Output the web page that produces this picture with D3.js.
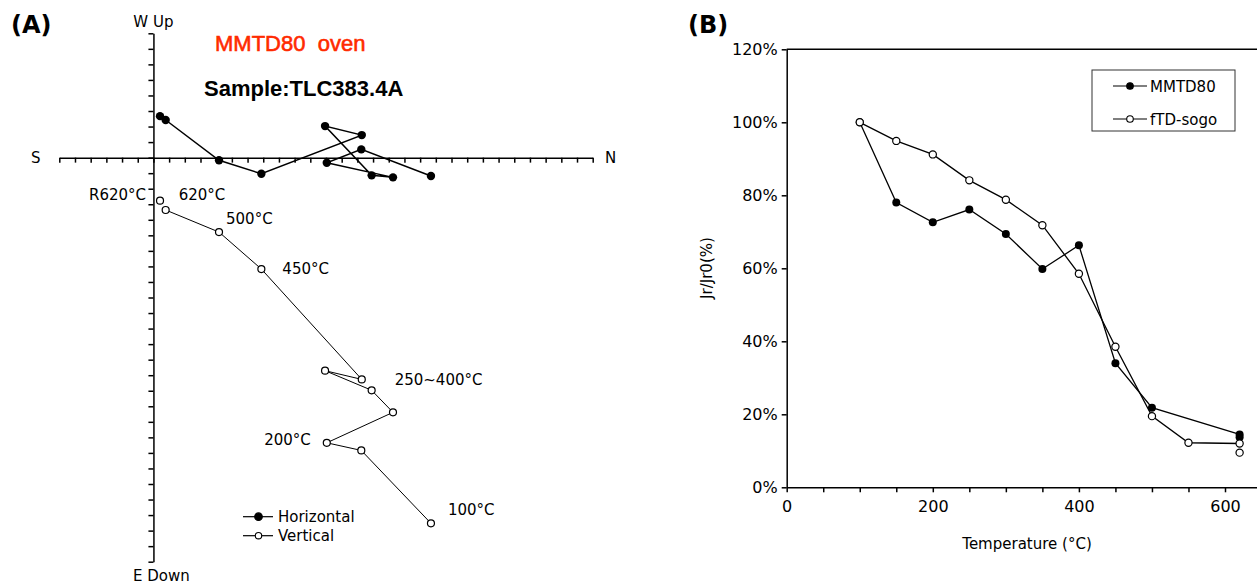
<!DOCTYPE html>
<html>
<head>
<meta charset="utf-8">
<script src="https://cdn.jsdelivr.net/npm/d3@7"></script>
<style>
    body { margin: 0; background: #fff; }
    svg { display: block; }
    .tick text { font-family: "DejaVu Sans", sans-serif; }
</style>
</head>
<body>
<svg id="chart" width="1257" height="586"></svg>
<script>
'use strict';

// (A) Zijderveld diagram, values in axis tick units
var stepLabels = ['100', '150', '200', '250', '300', '350', '400', '450', '500', '620', 'R620'];
var northComp = [17.69, 13.25, 11.05, 15.27, 13.91, 10.94, 13.28, 6.88, 4.18, 0.78, 0.42];
var westUpComp = [-1.18, 0.53, -0.33, -1.27, -1.14, 2.03, 1.45, -1.04, -0.17, 2.42, 2.67];
var downComp = [23.53, 18.84, 18.35, 16.39, 14.97, 13.71, 14.27, 7.17, 4.79, 3.37, 2.77];

// temperature notes placed beside the vertical projection
var noteText = ['R620°C', '620°C', '500°C', '450°C', '250~400°C', '200°C', '100°C'];
var noteStep = ['R620', '620', '500', '450', '300', '200', '100'];

// (B) remanence ratio vs temperature
var mmtdTemps = [100, 150, 200, 250, 300, 350, 400, 450, 500, 620];
var mmtdValues = [100, 78.0, 72.6, 76.1, 69.4, 59.8, 66.3, 34.0, 21.8, 14.5];
var mmtdReheat = 13.7;
var sogoTemps = [100, 150, 200, 250, 300, 350, 400, 450, 500, 550, 620];
var sogoValues = [100, 94.9, 91.2, 84.1, 78.8, 71.8, 58.5, 38.5, 19.5, 12.2, 12.0];
var sogoReheat = 9.5;
var yTicksB = [0, 20, 40, 60, 80, 100, 120];
var xTicksB = [0, 200, 400, 600];

var svg = d3.select('#chart');
var FONT = '"DejaVu Sans", sans-serif';

svg.append('rect').attr('width', 1257).attr('height', 586).attr('fill', '#fff');

/************************************ Panel A ************************************/
function drawPanelA() {
    var g = svg.append('g'),
        x = d3.scaleLinear().domain([-6, 28]).range([59.3, 592.7]),
        y = d3.scaleLinear().domain([8, -26]).range([33.3, 561.7]),
        pts = stepLabels.map(function (s, i) {
            return { step: s, n: northComp[i], w: westUpComp[i], d: downComp[i] };
        }),
        mainRun = pts.filter(d => d.step !== 'R620');

    g.append('text').attr('x', 11).attr('y', 33).attr('font-family', FONT)
        .attr('font-weight', 'bold').attr('font-size', 24).text('(A)');

    //horizontal axis (S - N), ticks hang below
    g.append('g')
        .attr('transform', 'translate(0,' + y(0) + ')')
        .call(d3.axisBottom(x).tickValues(d3.range(-6, 29)).tickSize(5).tickSizeOuter(0).tickFormat(''))
        .call(a => a.selectAll('line,path').attr('stroke', '#000').attr('stroke-width', 1.5));

    //vertical axis (W Up - E Down), ticks on left
    g.append('g')
        .attr('transform', 'translate(' + x(0) + ',0)')
        .call(d3.axisLeft(y).tickValues(d3.range(-26, 9)).tickSize(5).tickSizeOuter(0).tickFormat(''))
        .call(a => a.selectAll('line,path').attr('stroke', '#000').attr('stroke-width', 1.5));

    g.append('text').attr('x', x(0)).attr('y', 27).attr('text-anchor', 'middle')
        .attr('font-family', FONT).attr('font-size', 15).text('W Up');
    g.append('text').attr('x', x(0) + 8).attr('y', 581).attr('text-anchor', 'middle')
        .attr('font-family', FONT).attr('font-size', 15).text('E Down');
    g.append('text').attr('x', 31).attr('y', y(0) + 5).attr('font-family', FONT)
        .attr('font-size', 15).text('S');
    g.append('text').attr('x', 605).attr('y', y(0) + 5).attr('font-family', FONT)
        .attr('font-size', 15).text('N');

    g.append('text').attr('x', 215).attr('y', 51).attr('font-family', '"Liberation Sans", sans-serif')
        .attr('font-size', 22).attr('fill', '#ff2a00').attr('stroke', '#ff2a00').attr('stroke-width', 0.6)
        .attr('xml:space', 'preserve').text('MMTD80  oven');
    g.append('text').attr('x', 204).attr('y', 96).attr('font-family', '"Liberation Sans", sans-serif')
        .attr('font-size', 22).attr('font-weight', 'bold').text('Sample:TLC383.4A');

    //vertical projection (open)
    g.append('path').datum(mainRun)
        .attr('d', d3.line().x(d => x(d.n)).y(d => y(-d.d)))
        .attr('fill', 'none').attr('stroke', '#000').attr('stroke-width', 1);
    g.selectAll('.vpt').data(pts).enter().append('circle')
        .attr('cx', d => x(d.n)).attr('cy', d => y(-d.d)).attr('r', 3.5)
        .attr('fill', '#fff').attr('stroke', '#000').attr('stroke-width', 1.2);

    //horizontal projection (filled)
    g.append('path').datum(mainRun)
        .attr('d', d3.line().x(d => x(d.n)).y(d => y(d.w)))
        .attr('fill', 'none').attr('stroke', '#000').attr('stroke-width', 1.5);
    g.selectAll('.hpt').data(pts).enter().append('circle')
        .attr('cx', d => x(d.n)).attr('cy', d => y(d.w)).attr('r', 4.2)
        .attr('fill', '#000');

    //temperature notes (offsets to the label's vertical centre)
    var noteOffset = {
        'R620': [-14, -6, 'end'], '620': [13, -15, 'start'], '500': [7, -13, 'start'],
        '450': [21, 0, 'start'], '300': [23, -10, 'start'], '200': [-16, -3, 'end'], '100': [17, -13, 'start']
    };
    noteStep.forEach(function (s, i) {
        var p = pts.find(d => d.step === s),
            off = noteOffset[s];
        g.append('text')
            .attr('x', x(p.n) + off[0]).attr('y', y(-p.d) + off[1] + 5)
            .attr('text-anchor', off[2])
            .attr('font-family', FONT).attr('font-size', 15)
            .text(noteText[i]);
    });

    //legend
    var legend = [{ label: 'Horizontal', fill: '#000', r: 3.8, y: 516.7 }, { label: 'Vertical', fill: '#fff', r: 3.2, y: 535.7 }];
    legend.forEach(function (l) {
        g.append('line').attr('x1', 243).attr('x2', 273).attr('y1', l.y).attr('y2', l.y)
            .attr('stroke', '#000').attr('stroke-width', 1.2);
        g.append('circle').attr('cx', 258.5).attr('cy', l.y).attr('r', l.r)
            .attr('fill', l.fill).attr('stroke', '#000').attr('stroke-width', 1.1);
        g.append('text').attr('x', 278).attr('y', l.y + 5.5).attr('font-family', FONT)
            .attr('font-size', 15).text(l.label);
    });
}

/************************************ Panel B ************************************/
function drawPanelB() {
    var g = svg.append('g'),
        x = d3.scaleLinear().domain([0, 650]).range([786.7, 786.7 + 650 * 0.7305]),
        y = d3.scaleLinear().domain([0, 120]).range([487.3, 49.3]),
        mmtd = mmtdTemps.map((t, i) => ({ t: t, v: mmtdValues[i] })),
        sogo = sogoTemps.map((t, i) => ({ t: t, v: sogoValues[i] })),
        line = d3.line().x(d => x(d.t)).y(d => y(d.v));

    g.append('text').attr('x', 688).attr('y', 33).attr('font-family', FONT)
        .attr('font-weight', 'bold').attr('font-size', 24).text('(B)');

    //top frame line
    g.append('line').attr('x1', x(0)).attr('x2', 1257).attr('y1', y(120)).attr('y2', y(120))
        .attr('stroke', '#000').attr('stroke-width', 1.5);

    //x axis: labelled every 200, minor ticks every 50
    g.append('g')
        .attr('transform', 'translate(0,' + y(0) + ')')
        .call(d3.axisBottom(x).tickValues(d3.range(0, 651, 50)).tickSize(5).tickSizeOuter(0)
            .tickFormat(d => xTicksB.indexOf(d) >= 0 ? d : ''))
        .call(a => a.selectAll('line,path').attr('stroke', '#000').attr('stroke-width', 1.5))
        .call(a => a.selectAll('text').attr('font-size', 16).attr('fill', '#000').attr('dy', '1.05em'));

    g.append('g')
        .attr('transform', 'translate(' + x(0) + ',0)')
        .call(d3.axisLeft(y).tickValues(yTicksB).tickSize(5).tickSizeOuter(0).tickFormat(d => d + '%'))
        .call(a => a.selectAll('line,path').attr('stroke', '#000').attr('stroke-width', 1.5))
        .call(a => a.selectAll('text').attr('font-size', 16).attr('fill', '#000').attr('x', -9));

    g.append('text').attr('x', 1027).attr('y', 549).attr('text-anchor', 'middle')
        .attr('font-family', FONT).attr('font-size', 15).text('Temperature (°C)');
    g.append('text').attr('transform', 'translate(712,268) rotate(-90)').attr('text-anchor', 'middle')
        .attr('font-family', FONT).attr('font-size', 15).text('Jr/Jr0(%)');

    g.append('path').datum(mmtd).attr('d', line)
        .attr('fill', 'none').attr('stroke', '#000').attr('stroke-width', 1.3);
    g.append('path').datum(sogo).attr('d', line)
        .attr('fill', 'none').attr('stroke', '#000').attr('stroke-width', 1.3);

    g.selectAll('.mm').data(mmtd.concat([{ t: 620, v: mmtdReheat }])).enter().append('circle')
        .attr('cx', d => x(d.t)).attr('cy', d => y(d.v)).attr('r', 4)
        .attr('fill', '#000');
    g.selectAll('.sg').data(sogo.concat([{ t: 620, v: sogoReheat }])).enter().append('circle')
        .attr('cx', d => x(d.t)).attr('cy', d => y(d.v)).attr('r', 3.6)
        .attr('fill', '#fff').attr('stroke', '#000').attr('stroke-width', 1.2);

    //legend box
    g.append('rect').attr('x', 1092).attr('y', 70).attr('width', 143).attr('height', 61)
        .attr('fill', '#fff').attr('stroke', '#333').attr('stroke-width', 1);
    [{ label: 'MMTD80', fill: '#000', y: 86 }, { label: 'fTD-sogo', fill: '#fff', y: 119 }].forEach(function (l) {
        g.append('line').attr('x1', 1113).attr('x2', 1147).attr('y1', l.y).attr('y2', l.y)
            .attr('stroke', '#000').attr('stroke-width', 1.2);
        g.append('circle').attr('cx', 1130).attr('cy', l.y).attr('r', 3.3)
            .attr('fill', l.fill).attr('stroke', '#000').attr('stroke-width', 1.1);
        g.append('text').attr('x', 1150).attr('y', l.y + 6).attr('font-family', FONT)
            .attr('font-size', 15).text(l.label);
    });
}

drawPanelA();
drawPanelB();
</script>
</body>
</html>
